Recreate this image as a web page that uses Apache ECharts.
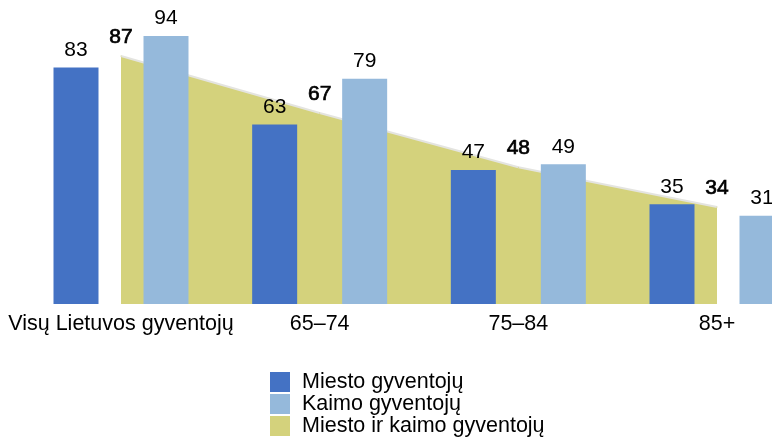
<!DOCTYPE html>
<html>
<head>
<meta charset="utf-8">
<script src="https://cdn.jsdelivr.net/npm/echarts@6/dist/echarts.min.js"></script>
<style>
  html, body { margin: 0; padding: 0; background: #fff; }
  #chart { width: 772px; height: 441px; }
</style>
</head>
<body>
<div id="chart"></div>
<script>
// categories and values
const categories = ['Visų Lietuvos gyventojų', '65–74', '75–84', '85+'];
const miesto = [83, 63, 47, 35];
const kaimo = [94, 79, 49, 31];
const visi = [87, 67, 48, 34];

const chart = echarts.init(document.getElementById('chart'), null, { renderer: 'canvas' });
const font = 'Liberation Sans, Arial, sans-serif';

const option = {
  backgroundColor: '#fff',
  animation: false,
  textStyle: { fontFamily: font },
  grid: { left: 121, right: 55, top: 19, bottom: 137 },
  legend: {
    orient: 'vertical',
    left: 270,
    top: 371,
    height: 100,
    padding: 0,
    itemWidth: 20,
    itemHeight: 20,
    itemGap: 0,
    icon: 'rect',
    data: ['Miesto gyventojų', 'Kaimo gyventojų', 'Miesto ir kaimo gyventojų'],
    textStyle: { fontSize: 21.5, lineHeight: 20, color: '#000', fontFamily: font, padding: [0, 0, 0, 7] }
  },
  xAxis: {
    type: 'category',
    data: categories,
    boundaryGap: false,
    axisLine: { show: false },
    axisTick: { show: false },
    axisLabel: { fontSize: 21.5, color: '#000', margin: 9, fontFamily: font, interval: 0 }
  },
  yAxis: {
    type: 'value',
    min: 0,
    max: 100,
    show: false,
    splitLine: { show: false }
  },
  series: [
    {
      name: 'Miesto ir kaimo gyventojų',
      type: 'line',
      data: visi,
      symbol: 'circle',
      symbolSize: 1,
      showSymbol: true,
      z: 1,
      itemStyle: { color: '#D4D27C' },
      lineStyle: { color: '#e4e4e0', width: 2 },
      areaStyle: { color: '#D4D27C', opacity: 1 },
      // slightly heavier than the bar labels, like the original
      label: {
        show: true, position: 'top', distance: 8,
        fontSize: 21, color: '#000', fontFamily: font,
        textBorderColor: '#000', textBorderWidth: 0.7
      }
    },
    {
      name: 'Miesto gyventojų',
      type: 'bar',
      data: miesto,
      barWidth: 45,
      barGap: '100%',
      clip: false,
      z: 3,
      itemStyle: { color: '#4472C4' },
      label: { show: true, position: 'top', distance: 7, fontSize: 21, color: '#000', fontFamily: font }
    },
    {
      name: 'Kaimo gyventojų',
      type: 'bar',
      data: kaimo,
      barWidth: 45,
      clip: false,
      z: 3,
      itemStyle: { color: '#95B9DB' },
      label: { show: true, position: 'top', distance: 7, fontSize: 21, color: '#000', fontFamily: font }
    }
  ]
};

chart.setOption(option);
</script>
</body>
</html>
